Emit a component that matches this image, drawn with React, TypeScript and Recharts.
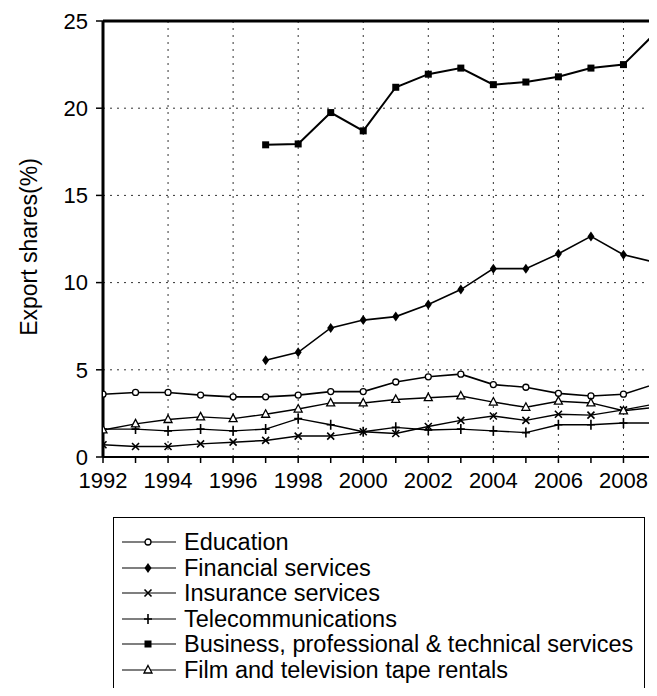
import React from 'react';
import { LineChart, Line, XAxis, YAxis, CartesianGrid, ReferenceLine } from 'recharts';

const years = [1992, 1993, 1994, 1995, 1996, 1997, 1998, 1999, 2000, 2001, 2002, 2003, 2004, 2005, 2006, 2007, 2008, 2009];
const education = [3.6, 3.7, 3.7, 3.55, 3.45, 3.45, 3.55, 3.75, 3.75, 4.3, 4.6, 4.75, 4.15, 4.0, 3.65, 3.5, 3.6, 4.2];
const financial = [null, null, null, null, null, 5.55, 6.0, 7.4, 7.85, 8.05, 8.75, 9.6, 10.8, 10.8, 11.65, 12.65, 11.6, 11.15];
const insurance = [0.7, 0.6, 0.6, 0.75, 0.85, 0.95, 1.2, 1.2, 1.45, 1.35, 1.75, 2.1, 2.35, 2.1, 2.45, 2.4, 2.7, 3.05];
const telecom = [1.6, 1.6, 1.5, 1.6, 1.5, 1.6, 2.2, 1.85, 1.45, 1.7, 1.55, 1.6, 1.5, 1.4, 1.85, 1.85, 1.95, 1.95];
const business = [null, null, null, null, null, 17.9, 17.95, 19.75, 18.7, 21.2, 21.95, 22.3, 21.35, 21.5, 21.8, 22.3, 22.5, 24.35];
const film = [1.55, 1.9, 2.15, 2.3, 2.2, 2.45, 2.75, 3.1, 3.1, 3.3, 3.4, 3.5, 3.15, 2.85, 3.2, 3.1, 2.65, 2.85];

const yTicks = [0, 5, 10, 15, 20, 25];
const gridYears = [1994, 1996, 1998, 2000, 2002, 2004, 2006, 2008];

const data = years.map((year, i) => ({
  year,
  education: education[i],
  financial: financial[i],
  insurance: insurance[i],
  telecom: telecom[i],
  business: business[i],
  film: film[i],
}));

const FONT = '"Liberation Sans", Arial, sans-serif';

type Mark = 'circle' | 'diamond' | 'cross' | 'plus' | 'square' | 'triangle';

const drawMark = (mark: Mark, cx: number, cy: number, key?: string) => {
  switch (mark) {
    case 'circle':
      return <circle key={key} cx={cx} cy={cy} r={3} fill="#fff" stroke="#000" strokeWidth={1.3} />;
    case 'diamond':
      return <path key={key} d={`M${cx},${cy - 5}L${cx + 3.5},${cy}L${cx},${cy + 5}L${cx - 3.5},${cy}Z`} fill="#000" />;
    case 'cross':
      return (
        <path key={key} d={`M${cx - 3.5},${cy - 3.5}L${cx + 3.5},${cy + 3.5}M${cx + 3.5},${cy - 3.5}L${cx - 3.5},${cy + 3.5}`} stroke="#000" strokeWidth={1.6} fill="none" />
      );
    case 'plus':
      return <path key={key} d={`M${cx},${cy - 5}L${cx},${cy + 5}M${cx - 4},${cy}L${cx + 4},${cy}`} stroke="#000" strokeWidth={1.6} fill="none" />;
    case 'square':
      return <rect key={key} x={cx - 3.5} y={cy - 3.5} width={7} height={7} fill="#000" />;
    case 'triangle':
      return <path key={key} d={`M${cx},${cy - 4.5}L${cx + 4},${cy + 3}L${cx - 4},${cy + 3}Z`} fill="#fff" stroke="#000" strokeWidth={1.3} />;
  }
};

const dotOf = (mark: Mark) => (props: any) => {
  const { cx, cy, index, value } = props;
  if (value == null || cy == null || isNaN(cy)) return <g key={`e${index}`} />;
  return drawMark(mark, cx, cy, `${mark}${index}`);
};

const series: { key: string; name: string; mark: Mark; width: number }[] = [
  { key: 'education', name: 'Education', mark: 'circle', width: 1.6 },
  { key: 'financial', name: 'Financial services', mark: 'diamond', width: 1.6 },
  { key: 'insurance', name: 'Insurance services', mark: 'cross', width: 1.4 },
  { key: 'telecom', name: 'Telecommunications', mark: 'plus', width: 1.4 },
  { key: 'business', name: 'Business, professional & technical services', mark: 'square', width: 2 },
  { key: 'film', name: 'Film and television tape rentals', mark: 'triangle', width: 1.4 },
];

const App: React.FC = () => {
  return (
    <div style={{ position: 'relative', width: 657, height: 696, margin: -8, overflow: 'hidden', background: '#fff', fontFamily: FONT }}>
      <LineChart width={657} height={500} data={data} margin={{ top: 21, right: 1, left: 43, bottom: 3 }}>
        <CartesianGrid vertical={false} stroke="#333" strokeDasharray="2 5" />
        {gridYears.map((y) => (
          <ReferenceLine key={y} x={y} stroke="#333" strokeDasharray="2 5" />
        ))}
        <ReferenceLine y={25} stroke="#000" strokeWidth={3} />
        <XAxis
          dataKey="year"
          type="number"
          domain={[1992, 2009]}
          ticks={years}
          interval={0}
          tickFormatter={(v: number) => (v % 2 === 0 ? String(v) : '')}
          tick={{ fill: '#000', fontSize: 22, fontFamily: FONT }}
          tickSize={6}
          tickMargin={9}
          axisLine={{ stroke: '#000', strokeWidth: 2 }}
          tickLine={{ stroke: '#000', strokeWidth: 1.5 }}
          height={40}
          allowDataOverflow
        />
        <YAxis
          domain={[0, 25]}
          ticks={yTicks}
          interval={0}
          tick={{ fill: '#000', fontSize: 22, fontFamily: FONT }}
          tickSize={7}
          tickMargin={8}
          axisLine={{ stroke: '#000', strokeWidth: 3 }}
          tickLine={{ stroke: '#000', strokeWidth: 1.5 }}
          width={60}
          label={{
            content: () => (
              <text x={29} y={247} transform="rotate(-90 29 247)" textAnchor="middle" dominantBaseline="central" fontSize={23} fontFamily={FONT} fill="#000">
                Export shares(%)
              </text>
            ),
          }}
        />
        {series.map((s) => (
          <Line
            key={s.key}
            dataKey={s.key}
            name={s.name}
            type="linear"
            stroke="#000"
            strokeWidth={s.width}
            dot={dotOf(s.mark)}
            activeDot={false}
            isAnimationActive={false}
          />
        ))}
      </LineChart>
      <div
        style={{
          position: 'absolute',
          left: 113,
          top: 517,
          width: 532,
          height: 200,
          border: '1px solid #000',
          boxSizing: 'border-box',
        }}
      >
        {series.map((s, i) => (
          <div key={s.key} style={{ position: 'absolute', left: 8, top: 12 + i * 25.6, height: 24, display: 'flex', alignItems: 'center' }}>
            <svg width={54} height={14} style={{ display: 'block' }}>
              <line x1={0} y1={7} x2={54} y2={7} stroke="#000" strokeWidth={1.2} />
              {drawMark(s.mark, 26, 7)}
            </svg>
            <span style={{ marginLeft: 8, fontSize: 23.5, color: '#000', whiteSpace: 'nowrap', lineHeight: '24px' }}>{s.name}</span>
          </div>
        ))}
      </div>
    </div>
  );
};

export default App;
